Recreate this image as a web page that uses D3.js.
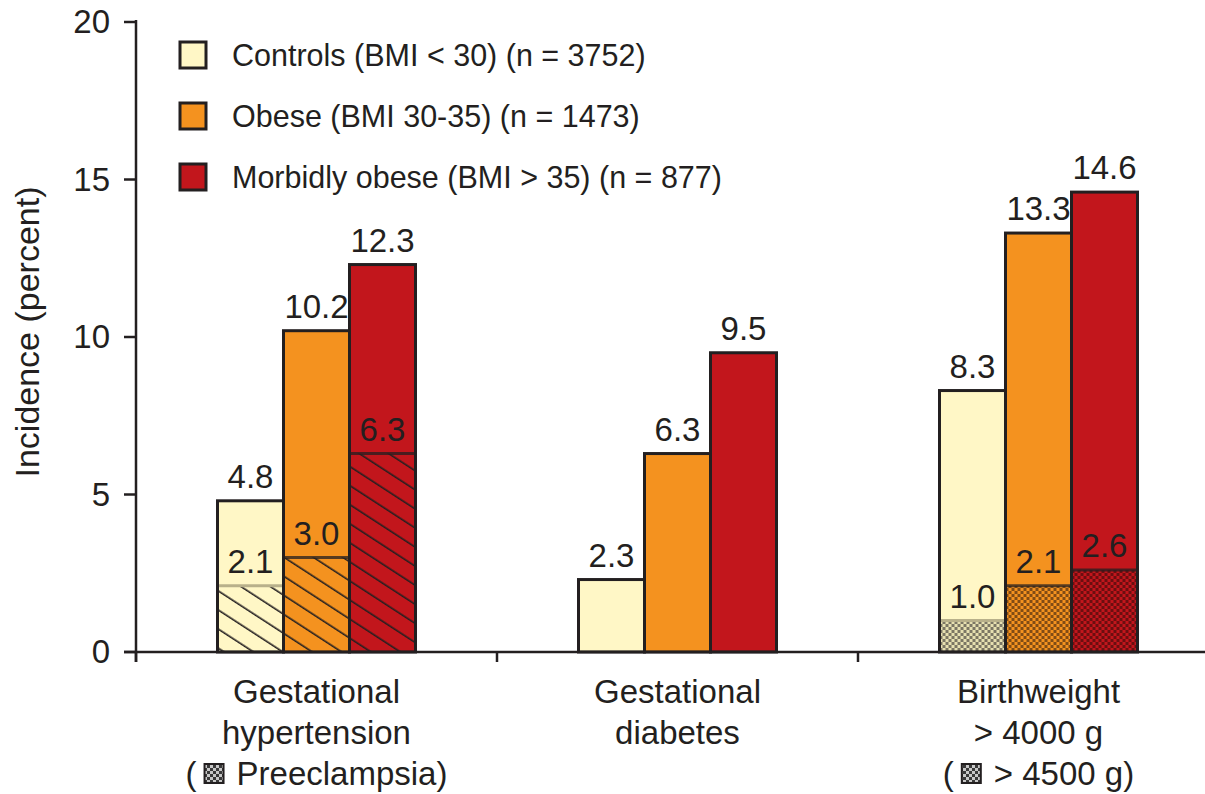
<!DOCTYPE html>
<html>
<head>
<meta charset="utf-8">
<script src="https://cdn.jsdelivr.net/npm/d3@7"></script>
<style>
  body { margin: 0; background: #fff; }
  svg text { font-family: "Liberation Sans", Arial, sans-serif; fill: #231f20; }
</style>
</head>
<body>
<svg id="chart" width="1205" height="794"></svg>
<script>
// chart data
const categories = ["Gestational hypertension", "Gestational diabetes", "Birthweight > 4000 g"];
const categoryLines = [
    ["Gestational", "hypertension", "Preeclampsia)"],
    ["Gestational", "diabetes"],
    ["Birthweight", "> 4000 g", "> 4500 g)"]
];
const seriesNames = ["Controls (BMI < 30) (n = 3752)", "Obese (BMI 30-35) (n = 1473)", "Morbidly obese (BMI > 35) (n = 877)"];
const controls = [4.8, 2.3, 8.3];
const obese = [10.2, 6.3, 13.3];
const morbid = [12.3, 9.5, 14.6];
// sub-outcome (preeclampsia / > 4500 g); null = none
const subControls = [2.1, null, 1.0];
const subObese = [3.0, null, 2.1];
const subMorbid = [6.3, null, 2.6];
const yTicks = [0, 5, 10, 15, 20];

const fills = ["#fff7c6", "#f4921f", "#c2161c"];
const darks = ["#b8b08a", "#9a5a12", "#6e0c10"];
const dots = ["#56524a", "#5a3410", "#4e0a0c"];
const ink = "#231f20";

const svg = d3.select("#chart");
const margin = {left: 136, top: 22, bottom: 652};

let y = d3.scaleLinear().domain([0, 20]).range([margin.bottom, margin.top]);
let x0 = d3.scaleBand().domain(categories).range([136, 1219]).paddingInner(0).paddingOuter(0);
let x1 = d3.scaleBand().domain([0, 1, 2]).range([0, 198]);
let groupOffset = (x0.bandwidth() - 198) / 2;

// patterns
let defs = svg.append("defs");
fills.forEach((c, i) => {
    let p = defs.append("pattern")
        .attr("id", "hatch" + i)
        .attr("patternUnits", "userSpaceOnUse")
        .attr("width", 16).attr("height", 16)
        .attr("patternTransform", "rotate(-57)");
    p.append("rect").attr("width", 16).attr("height", 16).attr("fill", c);
    p.append("line").attr("x1", 0).attr("y1", 0).attr("x2", 0).attr("y2", 16)
        .attr("stroke", ink).attr("stroke-width", 3.2);

    let q = defs.append("pattern")
        .attr("id", "check" + i)
        .attr("patternUnits", "userSpaceOnUse")
        .attr("width", 6).attr("height", 6);
    q.append("rect").attr("width", 6).attr("height", 6).attr("fill", i == 0 ? "#e6dfb0" : c);
    q.append("rect").attr("width", 3).attr("height", 3).attr("fill", dots[i]).attr("opacity", 0.75);
    q.append("rect").attr("x", 3).attr("y", 3).attr("width", 3).attr("height", 3).attr("fill", dots[i]).attr("opacity", 0.75);
});
let icon = defs.append("pattern").attr("id", "iconcheck")
    .attr("patternUnits", "userSpaceOnUse").attr("width", 6).attr("height", 6);
icon.append("rect").attr("width", 6).attr("height", 6).attr("fill", "#c8c8c8");
icon.append("rect").attr("width", 3).attr("height", 3).attr("fill", "#3a3a3a");
icon.append("rect").attr("x", 3).attr("y", 3).attr("width", 3).attr("height", 3).attr("fill", "#3a3a3a");

let rows = categories.map((c, i) => ({
    cat: c,
    vals: [controls[i], obese[i], morbid[i]],
    subs: [subControls[i], subObese[i], subMorbid[i]],
    idx: i
}));

let groups = svg.selectAll("g.group").data(rows).enter().append("g")
    .attr("class", "group")
    .attr("transform", d => "translate(" + (x0(d.cat) + groupOffset) + ",0)");

groups.each(function(d) {
    let g = d3.select(this);
    d.vals.forEach((v, k) => {
        let bx = x1(k), bw = x1.bandwidth();
        g.append("rect")
            .attr("x", bx).attr("y", y(v))
            .attr("width", bw).attr("height", y(0) - y(v))
            .attr("fill", fills[k]);
        let s = d.subs[k];
        if (s !== null) {
            g.append("rect")
                .attr("x", bx).attr("y", y(s))
                .attr("width", bw).attr("height", y(0) - y(s))
                .attr("fill", "url(#" + (d.idx == 0 ? "hatch" : "check") + k + ")");
            g.append("line")
                .attr("x1", bx).attr("x2", bx + bw)
                .attr("y1", y(s)).attr("y2", y(s))
                .attr("stroke", k == 0 ? darks[0] : ink).attr("stroke-width", 3)
                .attr("opacity", k == 0 ? 1 : 0.75);
            g.append("text")
                .attr("x", bx + bw / 2).attr("y", y(s) - 13)
                .attr("text-anchor", "middle")
                .attr("font-size", 33)
                .text(s.toFixed(1));
        }
        g.append("rect")
            .attr("x", bx).attr("y", y(v))
            .attr("width", bw).attr("height", y(0) - y(v))
            .attr("fill", "none").attr("stroke", ink).attr("stroke-width", 3);
        g.append("text")
            .attr("x", bx + bw / 2).attr("y", y(v) - 13)
            .attr("text-anchor", "middle")
            .attr("font-size", 33)
            .text(v.toFixed(1));
    });
});

// axes
svg.append("line").attr("x1", 136).attr("x2", 136).attr("y1", y(20) - 2).attr("y2", y(0) + 10)
    .attr("stroke", ink).attr("stroke-width", 2.5);
svg.append("line").attr("x1", 124).attr("x2", 1205).attr("y1", y(0)).attr("y2", y(0))
    .attr("stroke", ink).attr("stroke-width", 2.5);
svg.selectAll("line.ytick").data(yTicks).enter().append("line")
    .attr("class", "ytick")
    .attr("x1", 124).attr("x2", 136)
    .attr("y1", d => y(d)).attr("y2", d => y(d))
    .attr("stroke", ink).attr("stroke-width", 2.5);
svg.selectAll("text.ytick").data(yTicks).enter().append("text")
    .attr("class", "ytick")
    .attr("x", 110).attr("y", d => y(d) + 11)
    .attr("text-anchor", "end")
    .attr("font-size", 33)
    .text(d => d);
svg.selectAll("line.xtick").data(categories).enter().append("line")
    .attr("x1", d => x0(d)).attr("x2", d => x0(d))
    .attr("y1", y(0)).attr("y2", y(0) + 10)
    .attr("stroke", ink).attr("stroke-width", 2.5);

svg.append("text")
    .attr("transform", "translate(39," + 332 + ") rotate(-90)")
    .attr("text-anchor", "middle")
    .attr("font-size", 34)
    .text("Incidence (percent)");

// category labels
categoryLines.forEach((lines, i) => {
    let cx = x0(categories[i]) + x0.bandwidth() / 2;
    lines.forEach((t, j) => {
        let ty = 703 + j * 41;
        if (j == 2) {
            // "( [icon] text)" line
            let gap = 40;
            let tmp = svg.append("text").attr("font-size", 33).text("(");
            let wP = tmp.node().getComputedTextLength();
            tmp.text(t);
            let wT = tmp.node().getComputedTextLength();
            tmp.remove();
            let total = wP + gap + wT;
            let sx = cx - total / 2;
            svg.append("text").attr("x", sx).attr("y", ty).attr("font-size", 33).text("(");
            svg.append("rect")
                .attr("x", sx + wP + 8).attr("y", ty - 21)
                .attr("width", 19).attr("height", 19)
                .attr("fill", "url(#iconcheck)")
                .attr("stroke", ink).attr("stroke-width", 2);
            svg.append("text").attr("x", sx + wP + gap).attr("y", ty).attr("font-size", 33).text(t);
        } else {
            svg.append("text")
                .attr("x", cx).attr("y", ty)
                .attr("text-anchor", "middle")
                .attr("font-size", 33)
                .text(t);
        }
    });
});

// legend
let legend = svg.selectAll("g.legend").data(seriesNames).enter().append("g")
    .attr("class", "legend")
    .attr("transform", (d, i) => "translate(180," + (42 + i * 61) + ")");
legend.append("rect")
    .attr("width", 26).attr("height", 26)
    .attr("fill", (d, i) => fills[i])
    .attr("stroke", ink).attr("stroke-width", 3);
legend.append("text")
    .attr("x", 52).attr("y", 24)
    .attr("font-size", 30.5)
    .text(d => d);
</script>
</body>
</html>
